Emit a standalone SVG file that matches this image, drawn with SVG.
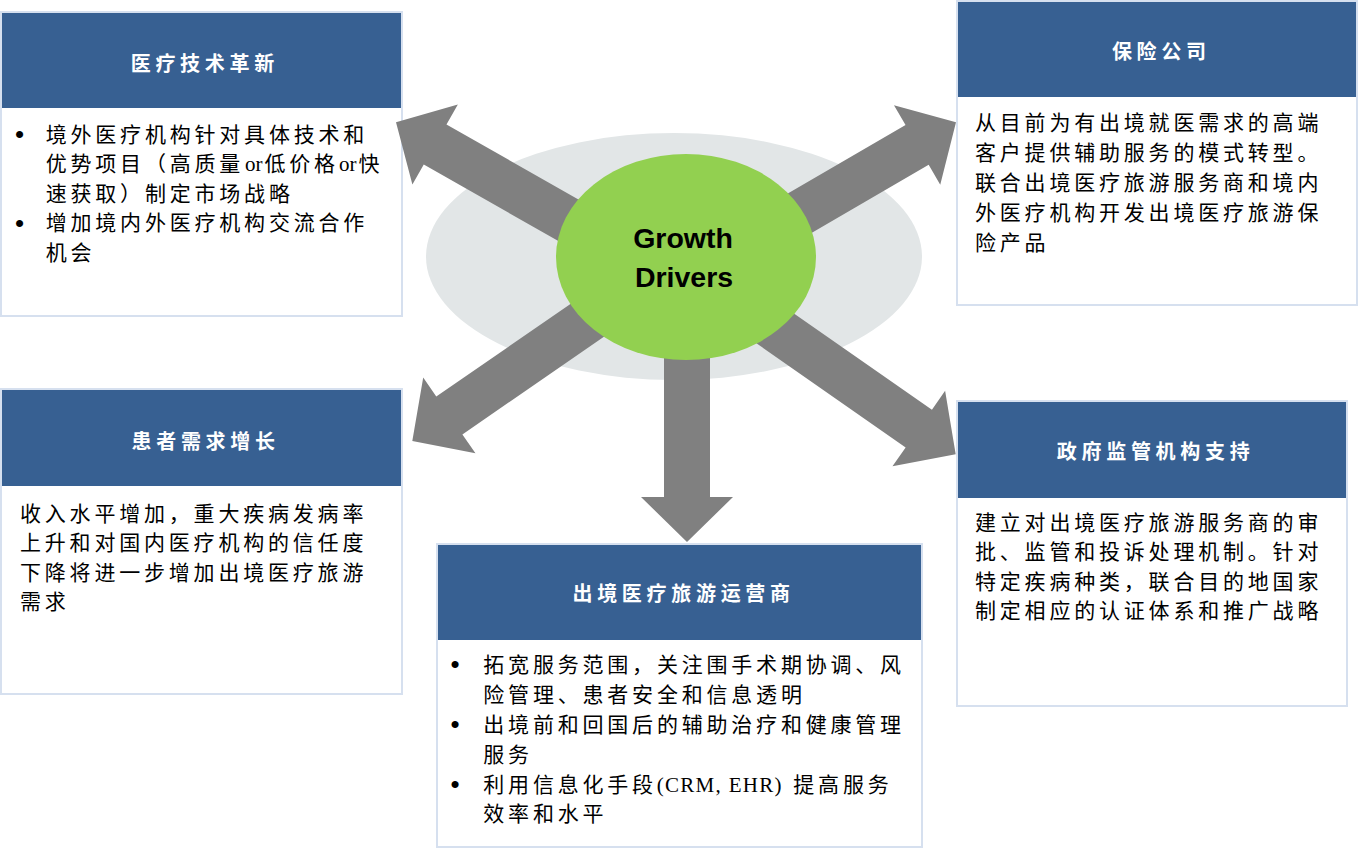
<svg xmlns="http://www.w3.org/2000/svg" xmlns:xlink="http://www.w3.org/1999/xlink" width="1359" height="848" viewBox="0 0 1359 848">
<style>
.box{fill:#ffffff;stroke:#d6e0ef;stroke-width:2}
.hdr{fill:#376092}
.ht{font-family:"Noto Sans CJK SC",sans-serif;font-size:20px;font-weight:bold;fill:#ffffff;letter-spacing:4.7px;text-anchor:middle}
.bt{font-family:"Liberation Serif","Noto Sans CJK SC",serif;font-size:21px;fill:#000000;letter-spacing:3.8px}
.lat{font-family:"Liberation Serif",serif;letter-spacing:0}
.bul{font-family:"Liberation Sans",sans-serif;font-size:26px;fill:#000000}
.arr{fill:#808080}
.ct{font-family:"Liberation Sans",Arial,sans-serif;font-size:28.5px;font-weight:bold;fill:#000000;text-anchor:middle}
</style>
<defs>
<path id="arrow" d="M0,0 L-45,-46 L-45,-23 L-260,-23 L-260,23 L-45,23 L-45,46 Z"/>
</defs>
<rect width="1359" height="848" fill="#ffffff"/>

<g id="node-tech">
<rect class="box" x="1" y="12" width="401" height="304"/>
<rect class="hdr" x="2" y="13" width="399" height="95"/>
<text class="ht" x="204.8" y="70.5">医疗技术革新</text>
<text class="bul" x="15" y="143">•</text>
<text class="bt" x="45.7" y="141.6">境外医疗机构针对具体技术和</text>
<text class="bt" y="171.1"><tspan x="45.7">优势项目（高质量</tspan><tspan class="lat" x="245">or</tspan><tspan x="264.5">低价格</tspan><tspan class="lat" x="339">or</tspan><tspan x="358.5">快</tspan></text>
<text class="bt" x="45.7" y="200.6">速获取）制定市场战略</text>
<text class="bul" x="15" y="231.5">•</text>
<text class="bt" x="45.7" y="230.1">增加境内外医疗机构交流合作</text>
<text class="bt" x="45.7" y="259.6">机会</text>
</g>

<g id="node-insurance">
<rect class="box" x="957" y="1" width="400" height="304"/>
<rect class="hdr" x="958" y="2" width="398" height="95"/>
<text class="ht" x="1161.3" y="59.2">保险公司</text>
<text class="bt" x="975" y="129.6">从目前为有出境就医需求的高端</text>
<text class="bt" x="975" y="159.6">客户提供辅助服务的模式转型。</text>
<text class="bt" x="975" y="189.6">联合出境医疗旅游服务商和境内</text>
<text class="bt" x="975" y="219.6">外医疗机构开发出境医疗旅游保</text>
<text class="bt" x="975" y="249.6">险产品</text>
</g>

<g id="node-patient">
<rect class="box" x="1" y="389" width="401" height="305"/>
<rect class="hdr" x="2" y="390" width="399" height="96"/>
<text class="ht" x="205.6" y="449.2">患者需求增长</text>
<text class="bt" x="20" y="520.6">收入水平增加，重大疾病发病率</text>
<text class="bt" x="20" y="550.1">上升和对国内医疗机构的信任度</text>
<text class="bt" x="20" y="579.6">下降将进一步增加出境医疗旅游</text>
<text class="bt" x="20" y="609.1">需求</text>
</g>

<g id="node-gov">
<rect class="box" x="957" y="401" width="390" height="305"/>
<rect class="hdr" x="958" y="402" width="388" height="96"/>
<text class="ht" x="1155.6" y="459.2">政府监管机构支持</text>
<text class="bt" x="975" y="529.6">建立对出境医疗旅游服务商的审</text>
<text class="bt" x="975" y="559.1">批、监管和投诉处理机制。针对</text>
<text class="bt" x="975" y="588.6">特定疾病种类，联合目的地国家</text>
<text class="bt" x="975" y="618.1">制定相应的认证体系和推广战略</text>
</g>

<g id="node-operator">
<rect class="box" x="437" y="544" width="485" height="303"/>
<rect class="hdr" x="438" y="545" width="483" height="95"/>
<text class="ht" x="683.6" y="600.8">出境医疗旅游运营商</text>
<text class="bul" x="450.5" y="673">•</text>
<text class="bt" x="483.3" y="671.6">拓宽服务范围，关注围手术期协调、风</text>
<text class="bt" x="483.3" y="701.6">险管理、患者安全和信息透明</text>
<text class="bul" x="450.5" y="733">•</text>
<text class="bt" x="483.3" y="731.6">出境前和回国后的辅助治疗和健康管理</text>
<text class="bt" x="483.3" y="761.6">服务</text>
<text class="bul" x="450.5" y="793">•</text>
<text class="bt" y="791.6"><tspan x="483.3">利用信息化手段</tspan><tspan class="lat" x="656.7" style="letter-spacing:1.3px">(CRM, EHR)</tspan><tspan x="793.3">提高服务</tspan></text>
<text class="bt" x="483.3" y="821.1">效率和水平</text>
</g>

<g id="backdrop">
<ellipse cx="674" cy="256.5" rx="248" ry="123.5" fill="#e2e6e7"/>
</g>

<g id="connectors">
<use xlink:href="#arrow" class="arr" transform="translate(396,122.3) rotate(209.6)"/>
<use xlink:href="#arrow" class="arr" transform="translate(956,122.3) rotate(-30.2)"/>
<use xlink:href="#arrow" class="arr" transform="translate(412.3,441) rotate(145.4)"/>
<use xlink:href="#arrow" class="arr" transform="translate(955.7,454.3) rotate(34.9)"/>
<use xlink:href="#arrow" class="arr" transform="translate(687,542) rotate(90)"/>
</g>

<g id="node-center">
<ellipse cx="686" cy="257" rx="130" ry="103" fill="#92d050"/>
<text class="ct" x="683" y="248.3">Growth</text>
<text class="ct" x="684" y="287.3">Drivers</text>
</g>
</svg>
